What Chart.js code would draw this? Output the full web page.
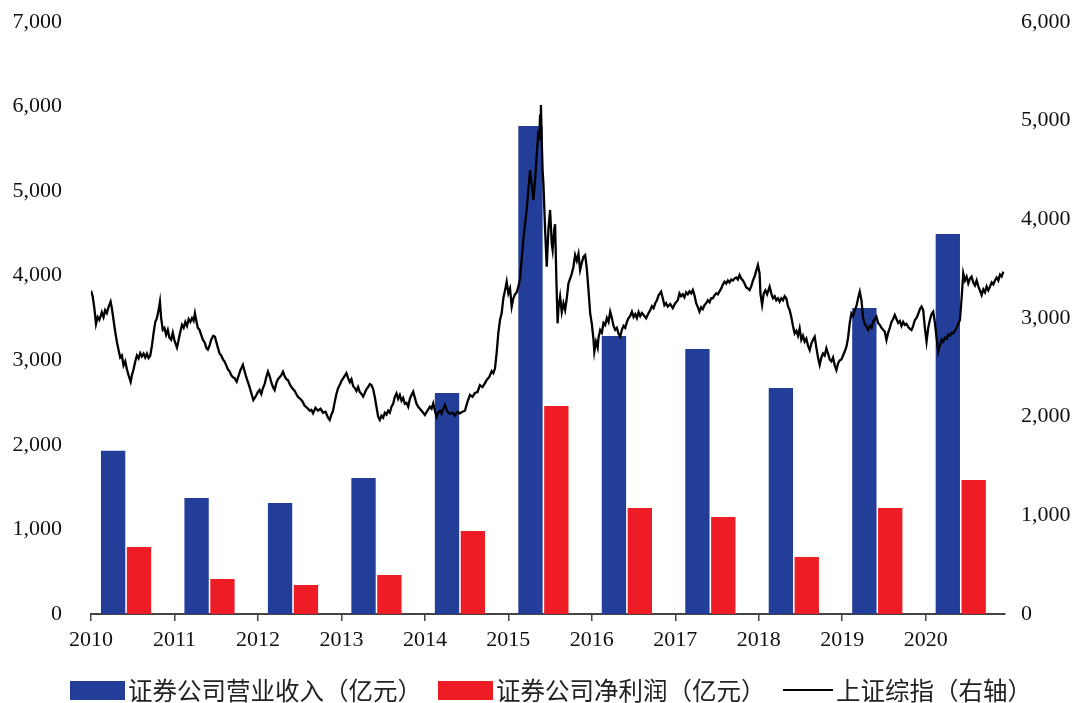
<!DOCTYPE html>
<html>
<head>
<meta charset="utf-8">
<script src="https://cdn.jsdelivr.net/npm/chart.js@4"></script>
<style>
  body { margin: 0; background: #fff; }
  #wrap { position: relative; width: 1080px; height: 703px; }
  #legend { position: absolute; left: 0; top: 675px; width: 1080px; height: 30px;
    font-family: "Noto Sans CJK SC", "Liberation Serif", serif; font-size: 24.5px; color: #222; }
  .item { position: absolute; top: 0; height: 30px; line-height: 30px; white-space: nowrap; }
  .sw { position: absolute; top: 6px; width: 55px; height: 19px; }
  .ln { position: absolute; top: 14px; width: 50px; height: 2px; background: #000; }
  .txt { position: absolute; top: 0; }
</style>
</head>
<body>
<div id="wrap">
  <canvas id="chart" width="1080" height="703"></canvas>
  <div id="legend"></div>
</div>
<script>
// 年份
var years = [2010, 2011, 2012, 2013, 2014, 2015, 2016, 2017, 2018, 2019, 2020];
// 证券公司营业收入（亿元）
var revenue = [1930, 1372, 1312, 1608, 2613, 5770, 3287, 3133, 2672, 3618, 4493];
// 证券公司净利润（亿元）
var netProfit = [792, 414, 343, 461, 981, 2459, 1253, 1147, 674, 1253, 1584];
// 上证综指 [年份, 点位]
var shIndex = [
  [2010.00,3277],[2010.02,3220],[2010.04,3100],[2010.06,2940],[2010.08,3010],[2010.10,2980],
  [2010.13,3060],[2010.15,3010],[2010.17,3080],[2010.19,3050],[2010.21,3110],[2010.235,3165],
  [2010.25,3100],[2010.27,2980],[2010.29,2860],[2010.31,2760],[2010.33,2676],[2010.35,2600],
  [2010.37,2620],[2010.39,2520],[2010.41,2560],[2010.43,2480],[2010.45,2420],[2010.475,2354],
  [2010.49,2420],[2010.51,2480],[2010.53,2560],[2010.55,2620],[2010.57,2590],[2010.59,2645],
  [2010.61,2610],[2010.63,2640],[2010.65,2600],[2010.67,2640],[2010.69,2594],[2010.71,2620],
  [2010.73,2720],[2010.75,2850],[2010.77,2960],[2010.79,3000],[2010.81,3080],[2010.826,3165],
  [2010.84,3000],[2010.86,2880],[2010.88,2900],[2010.90,2830],[2010.92,2880],[2010.94,2800],
  [2010.96,2780],[2010.98,2850],[2011.00,2770],[2011.03,2700],[2011.05,2780],[2011.07,2860],
  [2011.09,2930],[2011.11,2900],[2011.13,2960],[2011.15,2920],[2011.17,2990],[2011.19,2960],
  [2011.21,3000],[2011.23,2970],[2011.245,3047],[2011.26,2980],[2011.28,2900],[2011.30,2880],
  [2011.32,2830],[2011.34,2780],[2011.365,2747],[2011.38,2700],[2011.40,2680],[2011.42,2720],
  [2011.44,2780],[2011.465,2820],[2011.485,2810],[2011.50,2760],[2011.52,2700],[2011.54,2640],
  [2011.56,2620],[2011.585,2574],[2011.60,2560],[2011.62,2520],[2011.64,2480],[2011.66,2460],
  [2011.68,2420],[2011.70,2400],[2011.72,2390],[2011.745,2354],[2011.77,2420],[2011.79,2470],
  [2011.82,2524],[2011.84,2460],[2011.86,2400],[2011.88,2350],[2011.90,2300],[2011.92,2240],
  [2011.945,2169],[2011.97,2200],[2012.00,2250],[2012.02,2270],[2012.04,2230],[2012.06,2290],
  [2012.08,2330],[2012.10,2400],[2012.12,2456],[2012.14,2410],[2012.16,2350],[2012.18,2300],
  [2012.20,2270],[2012.22,2340],[2012.24,2380],[2012.26,2400],[2012.28,2420],[2012.30,2456],
  [2012.32,2410],[2012.34,2380],[2012.36,2370],[2012.38,2330],[2012.40,2300],[2012.42,2280],
  [2012.44,2260],[2012.46,2230],[2012.48,2200],[2012.50,2186],[2012.53,2160],[2012.56,2110],
  [2012.59,2090],[2012.62,2060],[2012.64,2070],[2012.66,2034],[2012.69,2090],[2012.72,2060],
  [2012.75,2080],[2012.78,2040],[2012.81,2050],[2012.84,1990],[2012.86,1966],[2012.88,2020],
  [2012.90,2060],[2012.92,2150],[2012.94,2230],[2012.96,2289],[2012.98,2320],[2013.00,2360],
  [2013.03,2400],[2013.06,2440],[2013.08,2390],[2013.10,2350],[2013.12,2380],[2013.14,2310],
  [2013.16,2290],[2013.18,2260],[2013.20,2300],[2013.22,2250],[2013.24,2230],[2013.26,2203],
  [2013.28,2240],[2013.30,2280],[2013.32,2300],[2013.34,2330],[2013.36,2321],[2013.38,2280],
  [2013.40,2200],[2013.42,2100],[2013.44,2000],[2013.46,1966],[2013.48,2010],[2013.50,1990],
  [2013.52,2040],[2013.54,2020],[2013.56,2060],[2013.58,2040],[2013.60,2100],[2013.62,2130],
  [2013.64,2200],[2013.66,2236],[2013.68,2180],[2013.70,2220],[2013.72,2160],[2013.74,2190],
  [2013.76,2130],[2013.78,2140],[2013.80,2101],[2013.82,2180],[2013.84,2220],[2013.86,2253],
  [2013.88,2190],[2013.90,2130],[2013.92,2100],[2013.94,2080],[2013.96,2060],[2013.98,2040],
  [2014.00,2017],[2014.03,2060],[2014.06,2100],[2014.08,2080],[2014.10,2135],[2014.12,2060],
  [2014.14,2000],[2014.16,2040],[2014.18,2060],[2014.20,2030],[2014.22,2080],[2014.24,2118],
  [2014.27,2050],[2014.30,2030],[2014.33,2040],[2014.36,2010],[2014.39,2050],[2014.42,2034],
  [2014.45,2050],[2014.48,2060],[2014.51,2150],[2014.54,2220],[2014.57,2200],[2014.60,2240],
  [2014.63,2250],[2014.66,2320],[2014.69,2300],[2014.72,2340],[2014.74,2372],[2014.77,2400],
  [2014.80,2460],[2014.82,2440],[2014.84,2490],[2014.86,2650],[2014.88,2850],[2014.90,2980],
  [2014.92,3050],[2014.94,3200],[2014.96,3280],[2014.98,3368],[2015.00,3250],[2015.02,3300],
  [2015.04,3115],[2015.06,3200],[2015.08,3240],[2015.10,3260],[2015.12,3318],[2015.14,3400],
  [2015.16,3600],[2015.18,3800],[2015.20,3950],[2015.22,4100],[2015.24,4300],[2015.26,4500],
  [2015.28,4350],[2015.30,4196],[2015.32,4400],[2015.34,4650],[2015.36,4900],[2015.37,4800],
  [2015.38,5050],[2015.39,5159],[2015.40,4800],[2015.41,4500],[2015.42,4365],[2015.44,3900],
  [2015.46,3520],[2015.48,3900],[2015.50,4095],[2015.52,3750],[2015.53,3689],[2015.55,3900],
  [2015.56,3950],[2015.575,3400],[2015.59,2946],[2015.60,3100],[2015.62,3216],[2015.64,3060],
  [2015.66,3150],[2015.68,3081],[2015.70,3200],[2015.72,3350],[2015.74,3400],[2015.76,3450],
  [2015.78,3520],[2015.80,3638],[2015.82,3580],[2015.84,3650],[2015.86,3486],[2015.88,3560],
  [2015.90,3620],[2015.92,3638],[2015.94,3500],[2015.96,3284],[2015.98,3050],[2016.00,2940],
  [2016.02,2780],[2016.03,2658],[2016.05,2760],[2016.07,2700],[2016.08,2800],[2016.10,2878],
  [2016.12,2850],[2016.14,2950],[2016.16,2930],[2016.18,3000],[2016.20,2960],[2016.22,3064],
  [2016.24,3000],[2016.26,2920],[2016.28,2880],[2016.30,2900],[2016.32,2840],[2016.34,2810],
  [2016.36,2880],[2016.38,2920],[2016.40,2900],[2016.42,2960],[2016.44,3000],[2016.46,3020],
  [2016.48,3064],[2016.50,3010],[2016.52,3040],[2016.54,3000],[2016.56,3060],[2016.58,3020],
  [2016.60,3050],[2016.62,3030],[2016.65,2997],[2016.68,3050],[2016.70,3080],[2016.72,3120],
  [2016.74,3100],[2016.76,3150],[2016.78,3180],[2016.80,3230],[2016.83,3267],[2016.85,3200],
  [2016.87,3130],[2016.89,3150],[2016.91,3115],[2016.94,3140],[2016.97,3100],[2017.00,3150],
  [2017.03,3180],[2017.05,3250],[2017.07,3220],[2017.09,3240],[2017.11,3210],[2017.13,3260],
  [2017.15,3240],[2017.17,3270],[2017.19,3250],[2017.21,3284],[2017.23,3230],[2017.25,3150],
  [2017.27,3110],[2017.29,3064],[2017.31,3110],[2017.33,3090],[2017.35,3130],[2017.37,3150],
  [2017.39,3180],[2017.41,3160],[2017.43,3200],[2017.45,3199],[2017.47,3230],[2017.49,3250],
  [2017.51,3240],[2017.53,3270],[2017.55,3300],[2017.57,3340],[2017.59,3368],[2017.61,3350],
  [2017.63,3380],[2017.65,3360],[2017.67,3390],[2017.69,3380],[2017.71,3400],[2017.73,3410],
  [2017.75,3390],[2017.77,3436],[2017.79,3400],[2017.81,3380],[2017.83,3350],[2017.85,3310],
  [2017.87,3300],[2017.89,3284],[2017.91,3320],[2017.93,3380],[2017.95,3420],[2017.97,3480],
  [2017.99,3537],[2018.01,3450],[2018.02,3250],[2018.04,3132],[2018.06,3250],[2018.08,3280],
  [2018.10,3240],[2018.13,3318],[2018.15,3250],[2018.17,3200],[2018.19,3220],[2018.21,3180],
  [2018.23,3200],[2018.25,3165],[2018.27,3200],[2018.29,3180],[2018.31,3220],[2018.33,3199],
  [2018.35,3120],[2018.37,3080],[2018.39,3010],[2018.41,2920],[2018.43,2845],[2018.45,2870],
  [2018.47,2820],[2018.49,2895],[2018.51,2780],[2018.53,2820],[2018.55,2760],[2018.57,2790],
  [2018.59,2720],[2018.61,2676],[2018.63,2740],[2018.65,2780],[2018.67,2810],[2018.69,2700],
  [2018.71,2600],[2018.73,2524],[2018.75,2600],[2018.77,2640],[2018.79,2620],[2018.81,2693],
  [2018.83,2640],[2018.85,2580],[2018.87,2560],[2018.89,2600],[2018.91,2520],[2018.93,2473],
  [2018.95,2540],[2018.97,2570],[2018.99,2580],[2019.01,2620],[2019.03,2660],[2019.05,2709],
  [2019.07,2800],[2019.09,2950],[2019.11,3047],[2019.13,3020],[2019.15,3080],[2019.17,3120],
  [2019.19,3200],[2019.21,3267],[2019.23,3180],[2019.25,3000],[2019.27,2940],[2019.29,2912],
  [2019.31,2880],[2019.33,2920],[2019.35,2900],[2019.37,2960],[2019.39,2990],[2019.41,3014],
  [2019.43,2950],[2019.45,2930],[2019.47,2900],[2019.49,2880],[2019.51,2860],[2019.53,2777],
  [2019.55,2850],[2019.57,2900],[2019.59,2960],[2019.61,2990],[2019.63,3030],[2019.65,2990],
  [2019.67,2950],[2019.69,2970],[2019.71,2920],[2019.73,2960],[2019.75,2930],[2019.77,2940],
  [2019.79,2910],[2019.81,2890],[2019.83,2878],[2019.85,2920],[2019.87,2980],[2019.89,3000],
  [2019.91,3040],[2019.93,3090],[2019.95,3115],[2019.97,3080],[2019.99,2900],[2020.01,2760],
  [2020.03,2900],[2020.05,2980],[2020.07,3040],[2020.09,3064],[2020.11,2950],[2020.13,2800],
  [2020.15,2658],[2020.17,2720],[2020.19,2780],[2020.21,2760],[2020.23,2800],[2020.25,2790],
  [2020.27,2830],[2020.29,2820],[2020.31,2850],[2020.33,2845],[2020.35,2870],[2020.37,2900],
  [2020.39,2940],[2020.41,2980],[2020.43,3200],[2020.45,3453],[2020.47,3380],[2020.49,3420],
  [2020.51,3350],[2020.53,3400],[2020.55,3419],[2020.57,3360],[2020.59,3330],[2020.61,3380],
  [2020.63,3320],[2020.65,3280],[2020.67,3233],[2020.69,3290],[2020.71,3260],[2020.73,3320],
  [2020.75,3280],[2020.77,3318],[2020.79,3360],[2020.81,3340],[2020.83,3380],[2020.85,3410],
  [2020.87,3380],[2020.89,3440],[2020.91,3420],[2020.93,3470]
];

var blue = '#233e99';
var red = '#ee1c25';
var barCenter = 0.42; // 柱组在年份区间内的位置

var serif = '"Liberation Serif", "Times New Roman", serif';
var tickFont = { family: serif, size: 22 };

function barData(values) {
  return values.map(function (v, i) { return { x: years[i] + barCenter, y: v }; });
}

// 纵轴宽度固定，并去掉刻度文字带来的额外上下留白
function fixWidth(w) {
  return function (s) {
    s.width = w;
    s.paddingTop = 0;
    s.paddingBottom = 0;
  };
}

var ctx = document.getElementById('chart').getContext('2d');
var chart = new Chart(ctx, {
  data: {
    datasets: [
      {
        type: 'line',
        label: '上证综指（右轴）',
        data: shIndex.map(function (p) { return { x: p[0], y: p[1] }; }),
        yAxisID: 'y1',
        xAxisID: 'x',
        borderColor: '#000',
        borderWidth: 2.3,
        pointRadius: 0,
        tension: 0,
        order: 0
      },
      {
        type: 'bar',
        label: '证券公司营业收入（亿元）',
        data: barData(revenue),
        backgroundColor: blue,
        yAxisID: 'y',
        xAxisID: 'x',
        categoryPercentage: 0.62,
        barPercentage: 0.94,
        order: 1
      },
      {
        type: 'bar',
        label: '证券公司净利润（亿元）',
        data: barData(netProfit),
        backgroundColor: red,
        yAxisID: 'y',
        xAxisID: 'x',
        categoryPercentage: 0.62,
        barPercentage: 0.94,
        order: 1
      }
    ]
  },
  options: {
    responsive: false,
    animation: false,
    layout: { padding: { top: 22, left: 0, right: 0, bottom: 49 } },
    plugins: {
      legend: { display: false },
      tooltip: { enabled: false }
    },
    scales: {
      x: {
        type: 'linear',
        min: 2010,
        max: 2020.95,
        offset: false,
        grid: { display: true, offset: false, drawOnChartArea: false, drawTicks: true, tickLength: 7, color: '#444', lineWidth: 1.5 },
        border: { display: true, color: '#444', width: 2 },
        ticks: {
          stepSize: 1,
          includeBounds: false,
          autoSkip: false,
          maxRotation: 0,
          padding: 6,
          color: '#111',
          font: tickFont,
          callback: function (v) { return String(v); }
        },
        afterFit: function (s) { s.height = 40; }
      },
      y: {
        position: 'left',
        min: 0,
        max: 7000,
        grid: { display: false },
        border: { display: false },
        ticks: {
          stepSize: 1000,
          padding: 21,
          color: '#111',
          font: tickFont,
          callback: function (v) { return v.toLocaleString('en-US'); }
        },
        afterFit: fixWidth(91)
      },
      y1: {
        position: 'right',
        min: 0,
        max: 6000,
        grid: { display: false },
        border: { display: false },
        ticks: {
          stepSize: 1000,
          padding: 8,
          color: '#111',
          font: tickFont,
          callback: function (v) { return v.toLocaleString('en-US'); }
        },
        afterFit: fixWidth(75)
      }
    }
  }
});

// 图例
var legendItems = [
  { kind: 'box', color: blue, left: 70, text: '证券公司营业收入（亿元）' },
  { kind: 'box', color: red, left: 438, text: '证券公司净利润（亿元）' },
  { kind: 'line', color: '#000', left: 783, text: '上证综指（右轴）' }
];
var legend = document.getElementById('legend');
legendItems.forEach(function (it) {
  var div = document.createElement('div');
  div.className = 'item';
  div.style.left = it.left + 'px';
  var mark = document.createElement('span');
  if (it.kind === 'box') {
    mark.className = 'sw';
    mark.style.background = it.color;
    mark.style.left = '0px';
  } else {
    mark.className = 'ln';
    mark.style.left = '0px';
  }
  var txt = document.createElement('span');
  txt.className = 'txt';
  txt.style.left = (it.kind === 'box' ? 58 : 53) + 'px';
  txt.textContent = it.text;
  div.appendChild(mark);
  div.appendChild(txt);
  legend.appendChild(div);
});
</script>
</body>
</html>
